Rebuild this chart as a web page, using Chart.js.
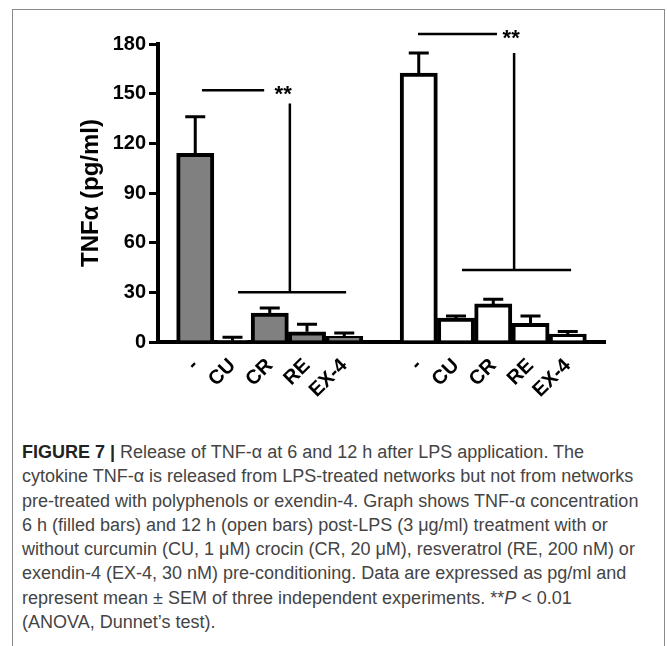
<!DOCTYPE html>
<html>
<head>
<meta charset="utf-8">
<script src="https://cdn.jsdelivr.net/npm/chart.js@4.4.0/dist/chart.umd.min.js"></script>
<style>
  html, body { margin: 0; padding: 0; background: #fff; }
  body { width: 667px; height: 646px; overflow: hidden; position: relative; font-family: "Liberation Sans", Arial, sans-serif; }
  #frame { position: absolute; left: 12px; top: 9px; width: 651px; height: 700px; border: 1px solid #8a8a8a; border-bottom: none; }
  #wrap { position: absolute; left: 0; top: 0; width: 667px; height: 420px; }
  #caption { position: absolute; left: 22px; top: 440px; font-size: 18px; line-height: 24.3px; color: #444; white-space: nowrap; }
  #caption b { color: #222; }
</style>
</head>
<body>
<div id="frame"></div>
<div id="wrap"><canvas id="chart" width="667" height="420"></canvas></div>
<div id="caption">
  <div><b>FIGURE 7 |</b> Release of TNF-α at 6 and 12 h after LPS application. The</div>
  <div>cytokine TNF-α is released from LPS-treated networks but not from networks</div>
  <div>pre-treated with polyphenols or exendin-4. Graph shows TNF-α concentration</div>
  <div>6 h (filled bars) and 12 h (open bars) post-LPS (3 μg/ml) treatment with or</div>
  <div>without curcumin (CU, 1 μM) crocin (CR, 20 μM), resveratrol (RE, 200 nM) or</div>
  <div>exendin-4 (EX-4, 30 nM) pre-conditioning. Data are expressed as pg/ml and</div>
  <div>represent mean ± SEM of three independent experiments. **<i>P</i> &lt; 0.01</div>
  <div>(ANOVA, Dunnet’s test).</div>
</div>
<script>
// treatments, same order in both groups
const treatments = ["-", "CU", "CR", "RE", "EX-4"];
// 6 h (filled bars), pg/ml
const tnf6h = [114, 0.8, 17.5, 6.2, 3.4];
const sem6h = [22, 2, 3, 4.5, 2];
// 12 h (open bars), pg/ml
const tnf12h = [162.5, 14.5, 23, 11.3, 4.8];
const sem12h = [12, 1.2, 2.8, 4.4, 1.5];
const yTicks = [0, 30, 60, 90, 120, 150, 180];

// significance brackets, x in category index units, y in pg/ml
const sigBrackets = [
  { topY: 152, topX: [1.18, 2.85], starX: 3.36, stemX: 3.54, stemY: [144, 30], baseY: 30, baseX: [2.15, 5.05] },
  { topY: 186, topX: [6.98, 9.1], starX: 9.48, stemX: 9.56, stemY: [174.5, 43.5], baseY: 43.5, baseX: [8.16, 11.09] },
];

// one empty slot before, between and after the two groups
const labels = ["", ...treatments, "", ...treatments, ""];
const gap = [null];
const blank = treatments.map(() => null);
const data6h = [...gap, ...tnf6h, ...gap, ...blank, ...gap];
const err6h = [...gap, ...sem6h, ...gap, ...blank, ...gap];
const data12h = [...gap, ...blank, ...gap, ...tnf12h, ...gap];
const err12h = [...gap, ...blank, ...gap, ...sem12h, ...gap];

const errorBars = {
  id: "errorBars",
  afterDatasetsDraw(chart) {
    const { ctx } = chart;
    const x = chart.scales.x;
    const y = chart.scales.y;
    ctx.save();
    ctx.strokeStyle = "#000";
    ctx.lineWidth = 3;
    chart.data.datasets.forEach((ds) => {
      ds.data.forEach((v, i) => {
        const e = ds.errors[i];
        if (v == null || e == null) return;
        const px = x.getPixelForValue(i);
        const y0 = y.getPixelForValue(v);
        const y1 = y.getPixelForValue(v + e);
        ctx.beginPath();
        ctx.moveTo(px, y0);
        ctx.lineTo(px, y1);
        ctx.moveTo(px - 10, y1);
        ctx.lineTo(px + 10, y1);
        ctx.stroke();
      });
    });
    ctx.restore();
  },
};

const brackets = {
  id: "brackets",
  afterDatasetsDraw(chart) {
    const { ctx } = chart;
    const x = chart.scales.x;
    const y = chart.scales.y;
    // x scale with offset:false maps index i to pixel linearly
    const xp = (v) => x.getPixelForValue(0) + v * (x.getPixelForValue(1) - x.getPixelForValue(0));
    ctx.save();
    ctx.strokeStyle = "#000";
    ctx.fillStyle = "#000";
    ctx.lineWidth = 2.5;
    for (const b of sigBrackets) {
      ctx.beginPath();
      ctx.moveTo(xp(b.topX[0]), y.getPixelForValue(b.topY));
      ctx.lineTo(xp(b.topX[1]), y.getPixelForValue(b.topY));
      ctx.moveTo(xp(b.stemX), y.getPixelForValue(b.stemY[0]));
      ctx.lineTo(xp(b.stemX), y.getPixelForValue(b.stemY[1]));
      ctx.moveTo(xp(b.baseX[0]), y.getPixelForValue(b.baseY));
      ctx.lineTo(xp(b.baseX[1]), y.getPixelForValue(b.baseY));
      ctx.stroke();
      ctx.font = "bold 22px 'Liberation Sans', Arial, sans-serif";
      ctx.textAlign = "center";
      ctx.textBaseline = "middle";
      ctx.fillText("**", xp(b.starX), y.getPixelForValue(b.topY) + 5);
    }
    ctx.restore();
  },
};

new Chart(document.getElementById("chart"), {
  type: "bar",
  data: {
    labels,
    datasets: [
      {
        label: "6 h",
        data: data6h,
        errors: err6h,
        backgroundColor: "#808080",
        borderColor: "#000",
        borderWidth: 4,
        grouped: false,
        categoryPercentage: 1,
        barPercentage: 1,
      },
      {
        label: "12 h",
        data: data12h,
        errors: err12h,
        backgroundColor: "#fff",
        borderColor: "#000",
        borderWidth: 4,
        grouped: false,
        categoryPercentage: 1,
        barPercentage: 1,
      },
    ],
  },
  options: {
    responsive: false,
    animation: false,
    layout: { padding: { left: 75, right: 62, top: 44, bottom: 0 } },
    plugins: { legend: { display: false }, tooltip: { enabled: false } },
    scales: {
      x: {
        offset: false,
        afterFit: (s) => { s.height = 78; },
        grid: { display: false, drawTicks: false },
        border: { display: true, color: "#000", width: 4 },
        ticks: {
          color: "#000",
          font: { family: "'Liberation Sans', Arial, sans-serif", size: 20, weight: "bold" },
          minRotation: 45,
          maxRotation: 45,
          autoSkip: false,
          padding: 12,
        },
      },
      y: {
        min: 0,
        max: 180,
        afterFit: (s) => { s.width = 83; },
        afterBuildTicks: (s) => { s.ticks = yTicks.map((v) => ({ value: v })); },
        grid: { drawOnChartArea: false, drawTicks: true, tickLength: 9, lineWidth: 3, color: "#000" },
        border: { display: true, color: "#000", width: 4 },
        ticks: {
          color: "#000",
          padding: 3,
          font: { family: "'Liberation Sans', Arial, sans-serif", size: 20, weight: "bold" },
        },
        title: {
          display: true,
          text: "TNFα (pg/ml)",
          color: "#000",
          padding: { top: 2, bottom: 0 },
          font: { family: "'Liberation Sans', Arial, sans-serif", size: 24, weight: "bold" },
        },
      },
    },
  },
  plugins: [errorBars, brackets],
});
</script>
</body>
</html>
